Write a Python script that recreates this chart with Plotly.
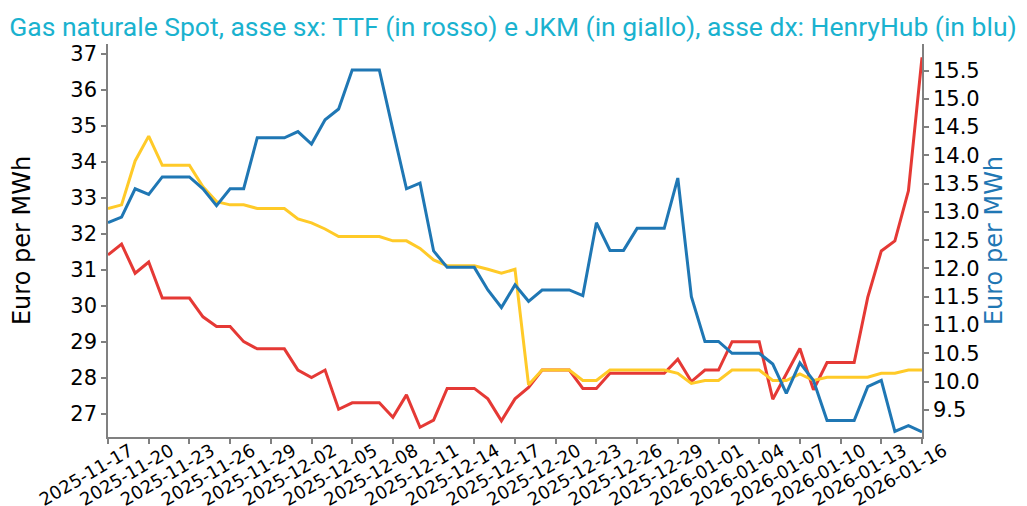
import datetime as dt
import plotly.graph_objects as go

start = dt.date(2025, 11, 17)

ttf = [31.42, 31.72, 30.91, 31.22, 30.22, 30.22, 30.22, 29.70, 29.43, 29.43,
       29.01, 28.81, 28.81, 28.81, 28.22, 28.01, 28.22, 27.13, 27.31, 27.31,
       27.31, 26.91, 27.53, 26.63, 26.83, 27.71, 27.71, 27.71, 27.42, 26.81,
       27.42, 27.74, 28.22, 28.22, 28.22, 27.71, 27.71, 28.13, 28.13, 28.13,
       28.13, 28.13, 28.52, 27.90, 28.22, 28.22, 29.01, 29.01, 29.01, 27.41,
       28.13, 28.82, 27.67, 28.43, 28.43, 28.43, 30.24, 31.53, 31.81, 33.20,
       36.91]

jkm = [32.71, 32.81, 34.03, 34.72, 33.91, 33.91, 33.91, 33.31, 32.90, 32.81,
       32.81, 32.71, 32.71, 32.71, 32.42, 32.31, 32.14, 31.93, 31.93, 31.93,
       31.93, 31.81, 31.81, 31.60, 31.28, 31.12, 31.12, 31.12, 31.02, 30.91,
       31.02, 27.81, 28.22, 28.22, 28.22, 27.93, 27.93, 28.22, 28.22, 28.22,
       28.22, 28.22, 28.13, 27.85, 27.93, 27.93, 28.22, 28.22, 28.22, 27.93,
       27.93, 28.11, 27.93, 28.02, 28.02, 28.02, 28.02, 28.13, 28.13, 28.22,
       28.22]

henryhub = [12.81, 12.91, 13.41, 13.31, 13.62, 13.62, 13.62, 13.41, 13.11, 13.41,
            13.41, 14.31, 14.31, 14.31, 14.42, 14.20, 14.63, 14.82, 15.51, 15.51,
            15.51, 14.45, 13.41, 13.51, 12.31, 12.02, 12.02, 12.02, 11.62, 11.31,
            11.71, 11.42, 11.62, 11.62, 11.62, 11.52, 12.81, 12.32, 12.32, 12.71,
            12.71, 12.71, 13.60, 11.50, 10.71, 10.71, 10.50, 10.50, 10.50, 10.31,
            9.79, 10.33, 10.02, 9.31, 9.31, 9.31, 9.91, 10.02, 9.12, 9.22,
            9.11]

dates = [(start + dt.timedelta(days=i)).isoformat() for i in range(len(ttf))]
tick_dates = dates[::3]

RED = "#e53935"
YELLOW = "#ffca28"
BLUE = "#1f77b4"
AXIS = "#808080"
TICKFONT = dict(family="DejaVu Sans", size=21, color="black")

fig = go.Figure()
fig.add_trace(go.Scatter(x=dates, y=ttf, mode="lines", name="TTF",
                         line=dict(color=RED, width=3)))
fig.add_trace(go.Scatter(x=dates, y=jkm, mode="lines", name="JKM",
                         line=dict(color=YELLOW, width=3)))
fig.add_trace(go.Scatter(x=dates, y=henryhub, mode="lines", name="HenryHub",
                         line=dict(color=BLUE, width=3), yaxis="y2"))

# page body has an 8px default margin, margins compensate for it
fig.update_layout(
    width=1027, height=506,
    margin=dict(l=100, r=113, t=36, b=77, autoexpand=False),
    paper_bgcolor="white", plot_bgcolor="white",
    showlegend=False,
    title=dict(
        text="Gas naturale Spot, asse sx: TTF (in rosso) e JKM (in giallo), asse dx: HenryHub (in blu)",
        font=dict(family="Roboto", size=26.5, color="#1ab2cf"),
        x=(513 - 8) / 1027, xanchor="center", xref="container",
        y=1 - 19 / 506, yanchor="middle", yref="container",
    ),
    xaxis=dict(
        range=[dates[0], dates[-1]], automargin=False,
        tickmode="array", tickvals=tick_dates, ticktext=tick_dates,
        tickangle=-30, tickfont=dict(family="DejaVu Sans", size=18, color="black"),
        ticklabelshift=22, ticklabelstandoff=-10,
        showline=True, linecolor=AXIS, linewidth=1.5,
        ticks="outside", ticklen=5, tickcolor=AXIS, tickwidth=1.5,
        showgrid=False, zeroline=False,
    ),
    yaxis=dict(
        range=[26.36, 37.28], dtick=1, tick0=27, automargin=False,
        tickfont=TICKFONT,
        title=dict(text="Euro per MWh", font=dict(family="DejaVu Sans", size=24, color="black"), standoff=35),
        showline=True, linecolor=AXIS, linewidth=1.5,
        ticks="outside", ticklen=5, tickcolor=AXIS, tickwidth=1.5,
        showgrid=False, zeroline=False,
    ),
    yaxis2=dict(
        range=[9.02, 15.97], dtick=0.5, tick0=9.5, tickformat=".1f", automargin=False,
        overlaying="y", side="right",
        tickfont=TICKFONT,
        title=dict(text="Euro per MWh", font=dict(family="DejaVu Sans", size=24, color=BLUE), standoff=0),
        showline=True, linecolor=AXIS, linewidth=1.5,
        ticks="outside", ticklen=5, tickcolor=AXIS, tickwidth=1.5,
        showgrid=False, zeroline=False,
    ),
)

fig.write_html("out.html")
